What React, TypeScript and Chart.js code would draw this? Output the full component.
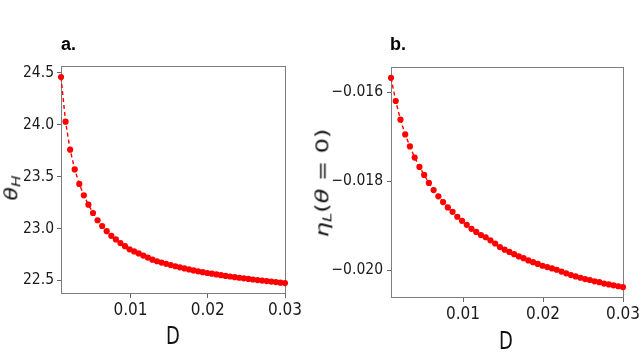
import React, { useEffect, useRef } from "react";
import { Chart, registerables } from "chart.js";

Chart.register(...registerables);

// D values (x axis, both panels)
const D_VALUES = [
  0.001, 0.001592, 0.002184, 0.002776, 0.003367, 0.003959, 0.004551, 0.005143, 0.005735, 0.006327,
  0.006918, 0.00751, 0.008102, 0.008694, 0.009286, 0.009878, 0.010469, 0.011061, 0.011653, 0.012245,
  0.012837, 0.013429, 0.01402, 0.014612, 0.015204, 0.015796, 0.016388, 0.01698, 0.017571, 0.018163,
  0.018755, 0.019347, 0.019939, 0.020531, 0.021122, 0.021714, 0.022306, 0.022898, 0.02349, 0.024082,
  0.024673, 0.025265, 0.025857, 0.026449, 0.027041, 0.027633, 0.028224, 0.028816, 0.029408, 0.03,
];

// Panel a: theta_H
const THETA_H = [
  24.46, 24.03, 23.76, 23.57, 23.43, 23.32, 23.23, 23.15, 23.08, 23.025,
  22.975, 22.93, 22.895, 22.86, 22.83, 22.8, 22.78, 22.76, 22.74, 22.72,
  22.7, 22.685, 22.672, 22.66, 22.648, 22.637, 22.626, 22.616, 22.606, 22.597,
  22.588, 22.58, 22.572, 22.565, 22.558, 22.551, 22.544, 22.538, 22.532, 22.526,
  22.52, 22.515, 22.509, 22.504, 22.499, 22.494, 22.489, 22.484, 22.479, 22.475,
];

// Panel b: eta_L(theta = 0)
const ETA_L = [
  -0.01568, -0.0162, -0.01662, -0.01695, -0.01722, -0.01747, -0.01768, -0.01786, -0.01804, -0.0182,
  -0.01834, -0.01847, -0.01859, -0.01869, -0.0188, -0.01889, -0.01898, -0.01907, -0.01914, -0.01921,
  -0.01926, -0.01933, -0.0194, -0.01948, -0.01954, -0.01959, -0.01964, -0.01969, -0.01973, -0.01978,
  -0.01982, -0.01986, -0.0199, -0.01993, -0.01996, -0.01999, -0.02003, -0.02007, -0.02011, -0.02014,
  -0.02017, -0.0202, -0.02022, -0.02025, -0.02027, -0.0203, -0.02032, -0.02034, -0.02036, -0.02038,
];

const D_TICKS = [0.01, 0.02, 0.03];
const THETA_TICKS = [22.5, 23.0, 23.5, 24.0, 24.5];
const ETA_TICKS = [-0.02, -0.018, -0.016];

const TICK_FONT = "'DejaVu Sans Condensed', 'Liberation Sans Narrow', 'DejaVu Sans', sans-serif";

const boxPlugin = {
  id: "frameBox",
  beforeDatasetsDraw(chart: any) {
    const { ctx, chartArea: a } = chart;
    ctx.save();
    ctx.strokeStyle = "#7d7d7d";
    ctx.lineWidth = 1;
    ctx.strokeRect(
      Math.round(a.left) + 0.5,
      Math.round(a.top) + 0.5,
      Math.round(a.right) - Math.round(a.left),
      Math.round(a.bottom) - Math.round(a.top)
    );
    ctx.restore();
  },
};

type Area = { left: number; top: number; right: number; bottom: number };

function makeChart(
  canvas: HTMLCanvasElement,
  W: number,
  H: number,
  ys: number[],
  yTicks: number[],
  yMin: number,
  yMax: number,
  area: Area,
  fmt: (v: number) => string,
  yPad: number
) {
  return new Chart(canvas, {
    type: "line",
    data: {
      datasets: [
        {
          data: D_VALUES.map((d, i) => ({ x: d, y: ys[i] })),
          borderColor: "#ff0000",
          borderWidth: 1.4,
          borderDash: [4, 3],
          pointRadius: 3.1,
          pointBackgroundColor: "#ff0000",
          pointBorderWidth: 0,
          tension: 0,
          fill: false,
          clip: 3,
        } as any,
      ],
    },
    options: {
      animation: false,
      responsive: false,
      maintainAspectRatio: false,
      events: [],
      layout: { padding: { left: 0, top: area.top, right: W - area.right, bottom: 0 } },
      plugins: { legend: { display: false }, tooltip: { enabled: false } },
      scales: {
        x: {
          type: "linear",
          min: 0.001,
          max: 0.03,
          afterBuildTicks: (s: any) => {
            s.ticks = D_TICKS.map((v) => ({ value: v }));
          },
          afterFit: (s: any) => {
            s.height = H - area.bottom;
            s.paddingLeft = 0;
            s.paddingRight = 0;
          },
          grid: { drawOnChartArea: false, tickLength: 5, color: "#666" },
          border: { display: false },
          ticks: {
            font: { family: TICK_FONT, size: 17 },
            color: "#1a1a1a",
            padding: 2,
            maxRotation: 0,
            autoSkip: false,
            callback: (v: any) => Number(v).toFixed(2),
          },
        },
        y: {
          type: "linear",
          min: yMin,
          max: yMax,
          afterBuildTicks: (s: any) => {
            s.ticks = yTicks.map((v) => ({ value: v }));
          },
          afterFit: (s: any) => {
            s.width = area.left;
            s.paddingTop = 0;
            s.paddingBottom = 0;
          },
          grid: { drawOnChartArea: false, tickLength: 4, color: "#666" },
          border: { display: false },
          ticks: {
            font: { family: TICK_FONT, size: 15.5 },
            color: "#1a1a1a",
            padding: yPad,
            autoSkip: false,
            callback: (v: any) => fmt(Number(v)),
          },
        },
      },
    },
    plugins: [boxPlugin],
  } as any);
}

const minus = (s: string) => s.replace("-", "\u2212");

export default function App() {
  const leftRef = useRef<HTMLCanvasElement>(null);
  const rightRef = useRef<HTMLCanvasElement>(null);

  useEffect(() => {
    const c1 = makeChart(
      leftRef.current!,
      320,
      360,
      THETA_H,
      THETA_TICKS,
      22.379,
      24.567,
      { left: 61, top: 66, right: 285, bottom: 293 },
      (v) => v.toFixed(1),
      3
    );
    const c2 = makeChart(
      rightRef.current!,
      321,
      360,
      ETA_L,
      ETA_TICKS,
      -0.020602,
      -0.015436,
      { left: 71, top: 67, right: 303, bottom: 297 },
      (v) => minus(v.toFixed(3)),
      4
    );
    return () => {
      c1.destroy();
      c2.destroy();
    };
  }, []);

  const panelTitle: React.CSSProperties = {
    position: "absolute",
    top: 35,
    fontFamily: "'Liberation Sans', Arial, sans-serif",
    fontWeight: "bold",
    fontSize: 18,
    lineHeight: "18px",
    color: "#000",
  };
  const rotLabel: React.CSSProperties = {
    position: "absolute",
    whiteSpace: "nowrap",
    lineHeight: 1,
    fontFamily: "'DejaVu Sans', sans-serif",
    color: "#111",
  };
  const xLabel: React.CSSProperties = {
    position: "absolute",
    lineHeight: 1,
    fontFamily: "'DejaVu Sans', sans-serif",
    fontSize: 25,
    color: "#111",
    transform: "translate(-50%, -50%) scaleX(0.72)",
  };

  return (
    <div style={{ position: "absolute", left: 0, top: 0, width: 641, height: 360, background: "#fff", overflow: "hidden" }}>
      <canvas ref={leftRef} width={320} height={360} style={{ position: "absolute", left: 0, top: 0, width: 320, height: 360 }} />
      <canvas ref={rightRef} width={321} height={360} style={{ position: "absolute", left: 320, top: 0, width: 321, height: 360 }} />
      <div style={{ ...panelTitle, left: 61 }}>a.</div>
      <div style={{ ...panelTitle, left: 390 }}>b.</div>
      <div style={{ ...xLabel, left: 173, top: 335 }}>D</div>
      <div style={{ ...xLabel, left: 506, top: 340 }}>D</div>
      <div
        style={{
          ...rotLabel,
          left: 13,
          top: 188,
          fontSize: 22,
          transform: "translate(-50%, -50%) rotate(-90deg) scaleY(0.8)",
        }}
      >
        <span style={{ fontStyle: "italic" }}>θ</span>
        <span style={{ fontStyle: "italic", fontSize: "0.7em", verticalAlign: "-0.25em" }}>H</span>
      </div>
      <div
        style={{
          ...rotLabel,
          left: 323,
          top: 183,
          fontSize: 24,
          transform: "translate(-50%, -50%) rotate(-90deg) scaleY(0.75)",
        }}
      >
        <span style={{ fontStyle: "italic" }}>η</span>
        <span style={{ fontStyle: "italic", fontSize: "0.7em", verticalAlign: "-0.25em" }}>L</span>
        <span>(</span>
        <span style={{ fontStyle: "italic" }}>θ</span>
        <span> = 0)</span>
      </div>
    </div>
  );
}
